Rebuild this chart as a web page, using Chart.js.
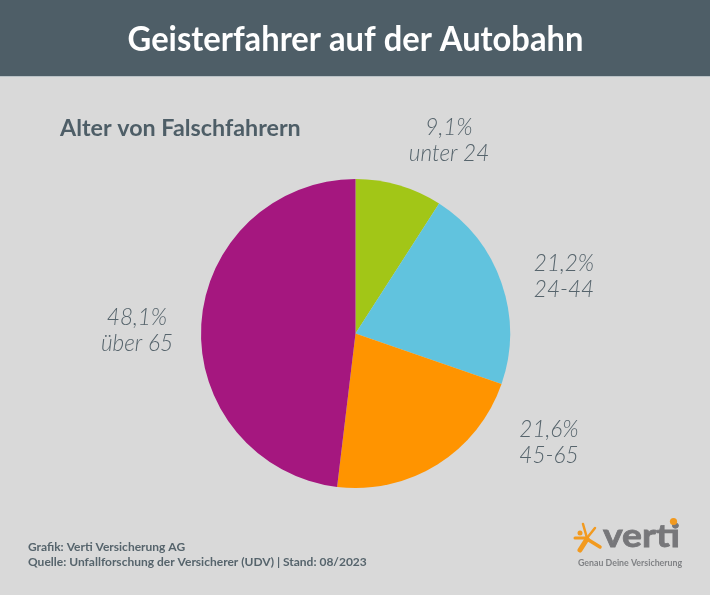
<!DOCTYPE html>
<html lang="de">
<head>
<meta charset="utf-8">
<title>Geisterfahrer auf der Autobahn</title>
<script src="https://cdn.jsdelivr.net/npm/chart.js@4"></script>
<style>
  html, body { margin: 0; padding: 0; background: #d9d9d9; }
  canvas { display: block; }
</style>
</head>
<body>
<canvas id="pie-chart" width="710" height="595"></canvas>
<script>
const categories = ["unter 24", "24-44", "45-65", "über 65"];
const shares = [9.1, 21.2, 21.6, 48.1];
const shareLabels = ["9,1%", "21,2%", "21,6%", "48,1%"];
const sliceColors = ["#a2c617", "#61c3de", "#ff9400", "#a5177f"];
const footerLines = ["Grafik: Verti Versicherung AG", "Quelle: Unfallforschung der Versicherer (UDV) | Stand: 08/2023"];

// where each two-line label sits, same order as categories
const labelSpots = [[449, 135], [564, 271], [549, 437], [137, 325]];

const FONT = "Lato, sans-serif";

// text with a horizontal squeeze, the original face is narrower than Lato
function put(ctx, text, x, y, font, color, align, squeeze) {
  ctx.save();
  ctx.translate(x, y);
  ctx.scale(squeeze || 1, 1);
  ctx.font = font;
  ctx.fillStyle = color;
  ctx.textAlign = align || "left";
  ctx.textBaseline = "alphabetic";
  ctx.fillText(text, 0, 0);
  ctx.restore();
}

function drawLogo(ctx) {
  put(ctx, "verti", 603, 547, "bold 33px " + FONT, "#77777a", "left", 1.13);
  ctx.strokeStyle = "#77777a";
  ctx.lineWidth = 0.8;
  ctx.save();
  ctx.translate(603, 547);
  ctx.scale(1.13, 1);
  ctx.font = "bold 33px " + FONT;
  ctx.strokeText("verti", 0, 0);
  ctx.restore();

  put(ctx, "Genau Deine Versicherung", 578, 566, "bold 8.8px " + FONT, "#808285");

  ctx.fillStyle = "#f29a1f";
  ctx.beginPath();
  ctx.arc(673.5, 521.5, 3.6, 0, Math.PI * 2);
  ctx.fill();

  // little running figure
  ctx.strokeStyle = "#f29a1f";
  ctx.lineCap = "round";
  const limbs = [
    [587, 538, 583, 524, 2.5],
    [587, 538, 595, 528, 2.5],
    [587, 538, 575, 538, 3],
    [587, 539, 580, 550, 5],
    [587, 539, 600, 547, 3.5],
  ];
  limbs.forEach(([x1, y1, x2, y2, w]) => {
    ctx.lineWidth = w;
    ctx.beginPath();
    ctx.moveTo(x1, y1);
    ctx.lineTo(x2, y2);
    ctx.stroke();
  });
  ctx.beginPath();
  ctx.arc(580, 533, 2.5, 0, Math.PI * 2);
  ctx.fill();
}

const backdrop = {
  id: "backdrop",
  beforeDraw(chart) {
    const ctx = chart.ctx;
    ctx.save();
    ctx.fillStyle = "#d9d9d9";
    ctx.fillRect(0, 0, 710, 595);
    ctx.fillStyle = "#4e5e67";
    ctx.fillRect(0, 0, 710, 76);
    ctx.fillStyle = "#b9c2c6";
    ctx.fillRect(0, 76, 710, 1);
    ctx.restore();
  },
};

const texts = {
  id: "texts",
  afterDraw(chart) {
    const ctx = chart.ctx;
    ctx.save();
    put(ctx, "Geisterfahrer auf der Autobahn", 355.5, 51, "bold 35px " + FONT, "#ffffff", "center", 0.934);
    put(ctx, "Alter von Falschfahrern", 60, 136, "bold 23px " + FONT, "#4e5e67", "left", 1.012);

    categories.forEach((cat, i) => {
      const [x, y] = labelSpots[i];
      put(ctx, shareLabels[i], x, y, "italic 300 24px " + FONT, "#56646c", "center", 0.94);
      put(ctx, cat, x, y + 26, "italic 300 24px " + FONT, "#56646c", "center", 0.94);
    });

    put(ctx, footerLines[0], 28, 551, "bold 12px " + FONT, "#56646c");
    put(ctx, footerLines[1], 28, 566, "bold 12px " + FONT, "#56646c");

    drawLogo(ctx);
    ctx.restore();
  },
};

new Chart(document.getElementById("pie-chart").getContext("2d"), {
  type: "pie",
  data: {
    labels: categories,
    datasets: [
      {
        data: shares,
        backgroundColor: sliceColors,
        borderWidth: 0,
      },
    ],
  },
  options: {
    responsive: false,
    animation: false,
    layout: { padding: { left: 201, right: 200, top: 179, bottom: 107 } },
    plugins: {
      legend: { display: false },
      tooltip: { enabled: false },
    },
  },
  plugins: [backdrop, texts],
});
</script>
</body>
</html>
